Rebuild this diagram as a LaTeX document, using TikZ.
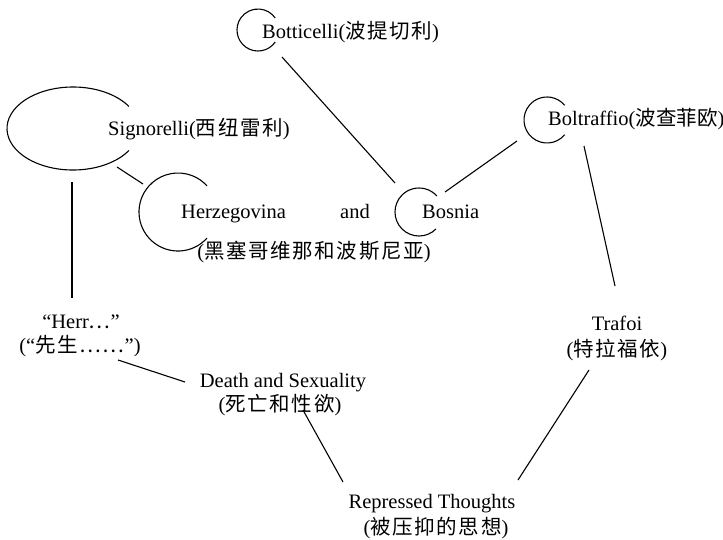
\documentclass[tikz,border=0pt]{standalone}
\usepackage{fontspec}
\setmainfont{Liberation Serif}
\newfontfamily\cjk[LetterSpace=8]{Noto Sans CJK SC}
\newfontfamily\cjktight{Noto Sans CJK SC}
\begin{document}
\begin{tikzpicture}[x=1pt,y=-1pt,
  lbl/.style={inner sep=0pt, font=\fontsize{20.5}{24}\selectfont},
  link/.style={line width=1.1pt},
  ring/.style={line width=1.1pt}]
\useasboundingbox (0,0) rectangle (723,539);

% ring centres
\coordinate (sigC) at (73,128.5);
\coordinate (herC) at (178,212);
\coordinate (bosC) at (419,212);
\coordinate (botC) at (258,30);
\coordinate (bolC) at (547,120);

% open rings
\draw[ring] ([shift={(32:66 and 41.5)}]sigC) arc[start angle=32,end angle=328,x radius=66,y radius=41.5];
\draw[ring] ([shift={(42:39)}]herC) arc[start angle=42,end angle=318,radius=39];
\draw[ring] ([shift={(45:24)}]bosC) arc[start angle=45,end angle=318,radius=24];
\draw[ring] ([shift={(35:21)}]botC) arc[start angle=35,end angle=325,radius=21];
\draw[ring] ([shift={(40:23)}]bolC) arc[start angle=40,end angle=320,radius=23];

% labels
\node[lbl, anchor=base west] (bot) at (262,38) {Botticelli({\cjk 波提切利})};
\node[lbl, anchor=base west] (sig) at (108,135) {Signorelli({\cjk 西纽雷利})};
\node[lbl, anchor=base west] (bol) at (548,125) {Boltraffio({\cjktight 波查菲欧})};
\node[lbl, anchor=base west] (her) at (181,218) {Herzegovina};
\node[lbl, anchor=base west] (and) at (340,218) {and};
\node[lbl, anchor=base west] (bos) at (422,218) {Bosnia};
\node[lbl] (hbcn) at (314,252) {({\cjk 黑塞哥维那和波斯尼亚})};
\node[lbl, anchor=base] (herr) at (81,328) {“Herr{\cjk …}”};
\node[lbl] (herrcn) at (80,346) {(“{\cjk 先生……}”)};
\node[lbl, anchor=base] (death) at (283,387) {Death and Sexuality};
\node[lbl] (deathcn) at (280,405) {({\cjk 死亡和性欲})};
\node[lbl, anchor=base] (tra) at (617,330) {Trafoi};
\node[lbl] (tracn) at (617,350) {({\cjk 特拉福依})};
\node[lbl, anchor=base] (rep) at (432,508) {Repressed Thoughts};
\node[lbl] (repcn) at (436,528) {({\cjk 被压抑的思想})};

% connector ends
\coordinate (e1a) at (282,57);   \coordinate (e1b) at (395,183);
\coordinate (e2a) at (445,192);  \coordinate (e2b) at (517,141);
\coordinate (e3a) at (117,167);  \coordinate (e3b) at (143,184);
\coordinate (e4a) at (72,182);   \coordinate (e4b) at (72,298);
\coordinate (e5a) at (584,146);  \coordinate (e5b) at (615,286);
\coordinate (e6a) at (118,360);  \coordinate (e6b) at (185,382);
\coordinate (e7a) at (303,410);  \coordinate (e7b) at (343,482);
\coordinate (e8a) at (589,370);  \coordinate (e8b) at (518,480);

\draw[link] (e1a) -- (e1b);
\draw[link] (e2a) -- (e2b);
\draw[link] (e3a) -- (e3b);
\draw[link] (e4a) -- (e4b);
\draw[link] (e5a) -- (e5b);
\draw[link] (e6a) -- (e6b);
\draw[link] (e7a) -- (e7b);
\draw[link] (e8a) -- (e8b);
\end{tikzpicture}
\end{document}
